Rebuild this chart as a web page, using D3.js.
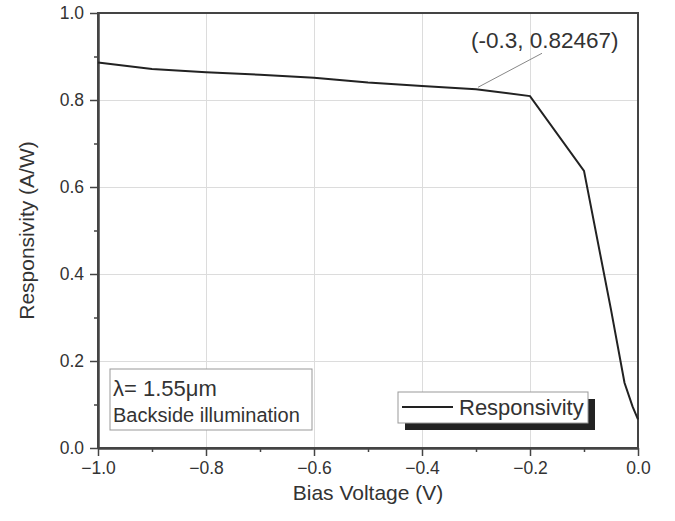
<!DOCTYPE html>
<html>
<head>
<meta charset="utf-8">
<script src="https://cdn.jsdelivr.net/npm/d3@7"></script>
<style>
    body { margin: 0; background: #fff; }
    text { font-family: "Liberation Sans", Arial, sans-serif; fill: #333; }
    .grid line { stroke: #dcdcdc; stroke-width: 1; }
    .grid path { display: none; }
    .axis path, .axis line { stroke: #444; }
</style>
</head>
<body>
<div id="chart"></div>
<script>
'use strict';

// bias voltage (V) and measured responsivity (A/W)
let voltage = [-1.0, -0.9, -0.8, -0.7, -0.6, -0.5, -0.4, -0.3, -0.2, -0.1, -0.05, -0.025, -0.01, 0.0];
let responsivity = [0.886, 0.871, 0.864, 0.858, 0.851, 0.840, 0.832, 0.82467, 0.809, 0.637, 0.318, 0.15, 0.095, 0.066];

let xTicks = [-1.0, -0.8, -0.6, -0.4, -0.2, 0.0];
let yTicks = [0.0, 0.2, 0.4, 0.6, 0.8, 1.0];
let xMinor = [-0.9, -0.7, -0.5, -0.3, -0.1];
let yMinor = [0.1, 0.3, 0.5, 0.7, 0.9];

let annotation = { x: -0.3, y: 0.82467, label: '(-0.3, 0.82467)' };
let legendLabel = 'Responsivity';
let infoLines = ['\u03bb= 1.55\u03bcm', 'Backside illumination'];

let width = 675,
    height = 521,
    margin = {
        top: 13,
        right: 37,
        bottom: 73,
        left: 98
    };
let w = width - margin.left - margin.right,
    h = height - margin.top - margin.bottom;

let svg = d3.select('#chart').append('svg')
    .attr('width', width)
    .attr('height', height);

let g = svg.append('g')
    .attr('transform', 'translate(' + margin.left + ',' + margin.top + ')');

let x = d3.scaleLinear().domain([-1, 0]).range([0, w]);
let y = d3.scaleLinear().domain([0, 1]).range([h, 0]);

let fmt = d3.format('.1f');

// grid
g.append('g')
    .attr('class', 'grid')
    .attr('transform', 'translate(0,' + h + ')')
    .call(d3.axisBottom(x).tickValues(xTicks).tickSize(-h).tickFormat(''));
g.append('g')
    .attr('class', 'grid')
    .call(d3.axisLeft(y).tickValues(yTicks).tickSize(-w).tickFormat(''));

// minor ticks
g.append('g')
    .attr('class', 'axis')
    .attr('transform', 'translate(0,' + h + ')')
    .call(d3.axisBottom(x).tickValues(xMinor).tickSize(4).tickFormat(''))
    .call(s => s.select('.domain').remove())
    .selectAll('line').style('stroke-width', 1.5);
g.append('g')
    .attr('class', 'axis')
    .call(d3.axisLeft(y).tickValues(yMinor).tickSize(4).tickFormat(''))
    .call(s => s.select('.domain').remove())
    .selectAll('line').style('stroke-width', 1.5);

// frame (top / right)
g.append('rect')
    .attr('width', w)
    .attr('height', h)
    .style('fill', 'none')
    .style('stroke', '#444')
    .style('stroke-width', 2);

// main axes
let gX = g.append('g')
    .attr('class', 'axis')
    .attr('transform', 'translate(0,' + h + ')')
    .call(d3.axisBottom(x).tickValues(xTicks).tickSize(8).tickSizeOuter(0).tickPadding(6).tickFormat(fmt));
let gY = g.append('g')
    .attr('class', 'axis')
    .call(d3.axisLeft(y).tickValues(yTicks).tickSize(8).tickSizeOuter(0).tickPadding(6).tickFormat(fmt));
gX.select('.domain').style('stroke-width', 2.5);
gY.select('.domain').style('stroke-width', 2.5);
gX.selectAll('line').style('stroke-width', 1.5);
gY.selectAll('line').style('stroke-width', 1.5);
gX.selectAll('text').style('font-size', '17.5px').style('fill', '#333');
gY.selectAll('text').style('font-size', '17.5px').style('fill', '#333');

// axis titles
svg.append('text')
    .attr('x', margin.left + w / 2)
    .attr('y', 500)
    .attr('text-anchor', 'middle')
    .style('font-size', '21px')
    .text('Bias Voltage (V)');
svg.append('text')
    .attr('transform', 'translate(34,' + (margin.top + h / 2) + ') rotate(-90)')
    .attr('text-anchor', 'middle')
    .style('font-size', '21px')
    .text('Responsivity (A/W)');

// curve
let data = voltage.map(function(v, i) {
    return { v: v, r: responsivity[i] };
});
let line = d3.line()
    .x(function(d) { return x(d.v); })
    .y(function(d) { return y(d.r); });
g.append('path')
    .datum(data)
    .attr('d', line)
    .style('fill', 'none')
    .style('stroke', '#222')
    .style('stroke-width', 2);

// annotation with leader line
g.append('line')
    .attr('x1', x(annotation.x) + 2)
    .attr('y1', y(annotation.y) - 2)
    .attr('x2', x(annotation.x) + 66)
    .attr('y2', y(annotation.y) - 36)
    .style('stroke', '#888')
    .style('stroke-width', 1);
g.append('text')
    .attr('x', x(annotation.x) - 5)
    .attr('y', 35)
    .style('font-size', '22.5px')
    .text(annotation.label);

// info box
let info = g.append('g').attr('transform', 'translate(12,356)');
info.append('rect')
    .attr('width', 202)
    .attr('height', 61)
    .style('fill', '#fff')
    .style('stroke', '#999')
    .style('stroke-width', 1);
info.append('text')
    .attr('x', 3)
    .attr('y', 27)
    .style('font-size', '22px')
    .text(infoLines[0]);
info.append('text')
    .attr('x', 3)
    .attr('y', 53)
    .style('font-size', '20px')
    .text(infoLines[1]);

// legend with drop shadow
let legend = g.append('g').attr('transform', 'translate(300,379)');
legend.append('rect')
    .attr('x', 7)
    .attr('y', 7)
    .attr('width', 190)
    .attr('height', 31)
    .style('fill', '#222');
legend.append('rect')
    .attr('width', 190)
    .attr('height', 31)
    .style('fill', '#fff')
    .style('stroke', '#999')
    .style('stroke-width', 1);
legend.append('line')
    .attr('x1', 4)
    .attr('x2', 55)
    .attr('y1', 15)
    .attr('y2', 15)
    .style('stroke', '#222')
    .style('stroke-width', 2);
legend.append('text')
    .attr('x', 61)
    .attr('y', 23)
    .style('font-size', '22px')
    .text(legendLabel);
</script>
</body>
</html>
